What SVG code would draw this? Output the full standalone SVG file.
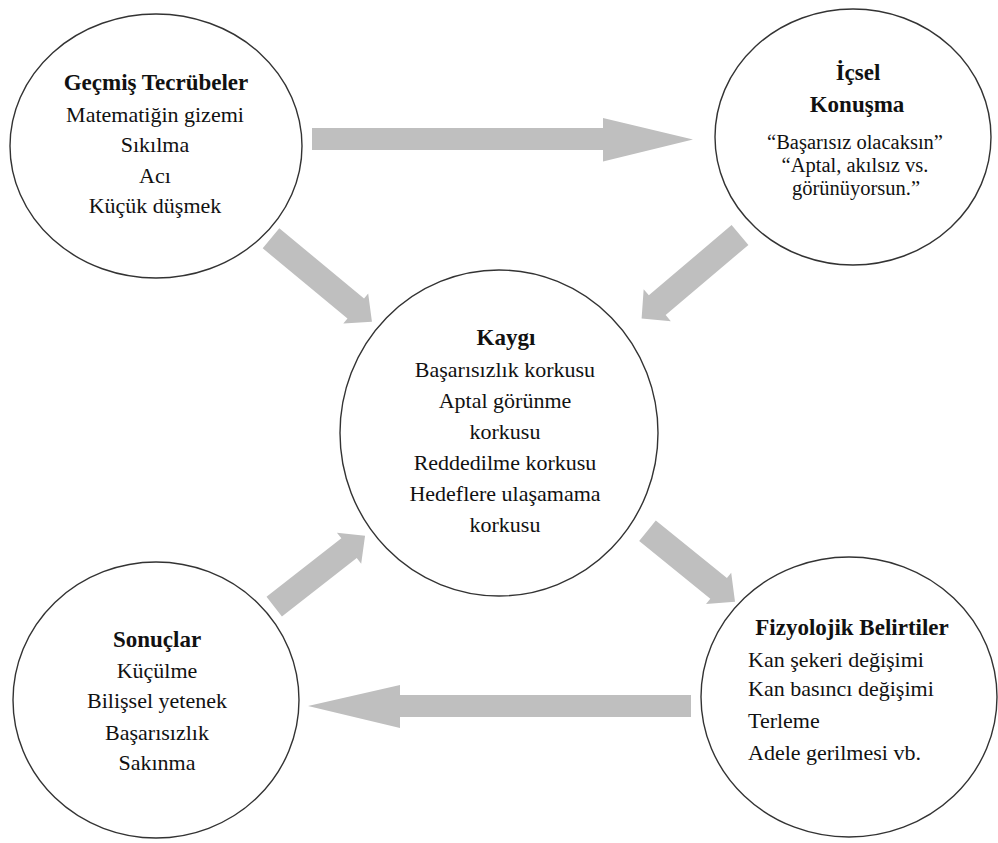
<svg xmlns="http://www.w3.org/2000/svg" width="998" height="843" viewBox="0 0 998 843">
<style>
.node ellipse{fill:#fff;stroke:#333;stroke-width:1.4}
.arrow{fill:#bfbfbf;stroke:none}
text{font-family:"Liberation Serif","Times New Roman",serif;fill:#111;font-size:22px}
.t{font-weight:bold;font-size:23px}
.c{text-anchor:middle}
.q{font-size:20.5px}
</style>
<rect width="998" height="843" fill="#fff"/>
<g id="connectors">
<polygon class="arrow" points="312,128 603,128 603,118 693,139.5 603,161.5 603,150 312,150"/>
<polygon class="arrow" points="691,695 400,695 400,685 308,706 400,728 400,717 691,717"/>
<polygon class="arrow" points="0,-13 110,-13 110,-19.5 131,0 110,19.5 110,13 0,13" transform="translate(271,238.3) rotate(39.6)"/>
<polygon class="arrow" points="0,-13 108.5,-13 108.5,-21 129,0 108.5,21 108.5,13 0,13" transform="translate(740,235) rotate(139.7)"/>
<polygon class="arrow" points="0,-12.5 95,-12.5 95,-19.7 115.3,0 95,19.7 95,12.5 0,12.5" transform="translate(274.2,606.7) rotate(-38)"/>
<polygon class="arrow" points="0,-13.2 91.5,-13.2 91.5,-20 112.6,0 91.5,20 91.5,13.2 0,13.2" transform="translate(647.5,530.8) rotate(39)"/>
</g>
<g id="gecmis" class="node">
<ellipse cx="156" cy="146" rx="146" ry="132"/>
<text class="t c" x="156" y="90">Geçmiş Tecrübeler</text>
<text class="c" x="155" y="122">Matematiğin gizemi</text>
<text class="c" x="155" y="152">Sıkılma</text>
<text class="c" x="155" y="183">Acı</text>
<text class="c" x="155" y="213">Küçük düşmek</text>
</g>
<g id="icsel" class="node">
<ellipse cx="853" cy="137" rx="138" ry="128"/>
<text class="t c" x="858" y="80">İçsel</text>
<text class="t c" x="857" y="112">Konuşma</text>
<text class="c q" x="855" y="149">“Başarısız olacaksın”</text>
<text class="c q" x="855" y="172">“Aptal, akılsız vs.</text>
<text class="c q" x="856" y="195">görünüyorsun.”</text>
</g>
<g id="kaygi" class="node">
<ellipse cx="499" cy="433" rx="159" ry="163"/>
<text class="t c" x="506" y="345">Kaygı</text>
<text class="c" x="505" y="377">Başarısızlık korkusu</text>
<text class="c" x="505" y="408">Aptal görünme</text>
<text class="c" x="505" y="439">korkusu</text>
<text class="c" x="505" y="470">Reddedilme korkusu</text>
<text class="c" x="505" y="501">Hedeflere ulaşamama</text>
<text class="c" x="505" y="532">korkusu</text>
</g>
<g id="sonuclar" class="node">
<ellipse cx="156" cy="700" rx="143" ry="138"/>
<text class="t c" x="157" y="647">Sonuçlar</text>
<text class="c" x="157" y="678">Küçülme</text>
<text class="c" x="157" y="708">Bilişsel yetenek</text>
<text class="c" x="157" y="740">Başarısızlık</text>
<text class="c" x="157" y="770">Sakınma</text>
</g>
<g id="fizyolojik" class="node">
<ellipse cx="849" cy="697" rx="148" ry="140"/>
<text class="t c" x="852" y="635">Fizyolojik Belirtiler</text>
<text x="748" y="667">Kan şekeri değişimi</text>
<text x="748" y="696">Kan basıncı değişimi</text>
<text x="748" y="728">Terleme</text>
<text x="748" y="760">Adele gerilmesi vb.</text>
</g>
</svg>
